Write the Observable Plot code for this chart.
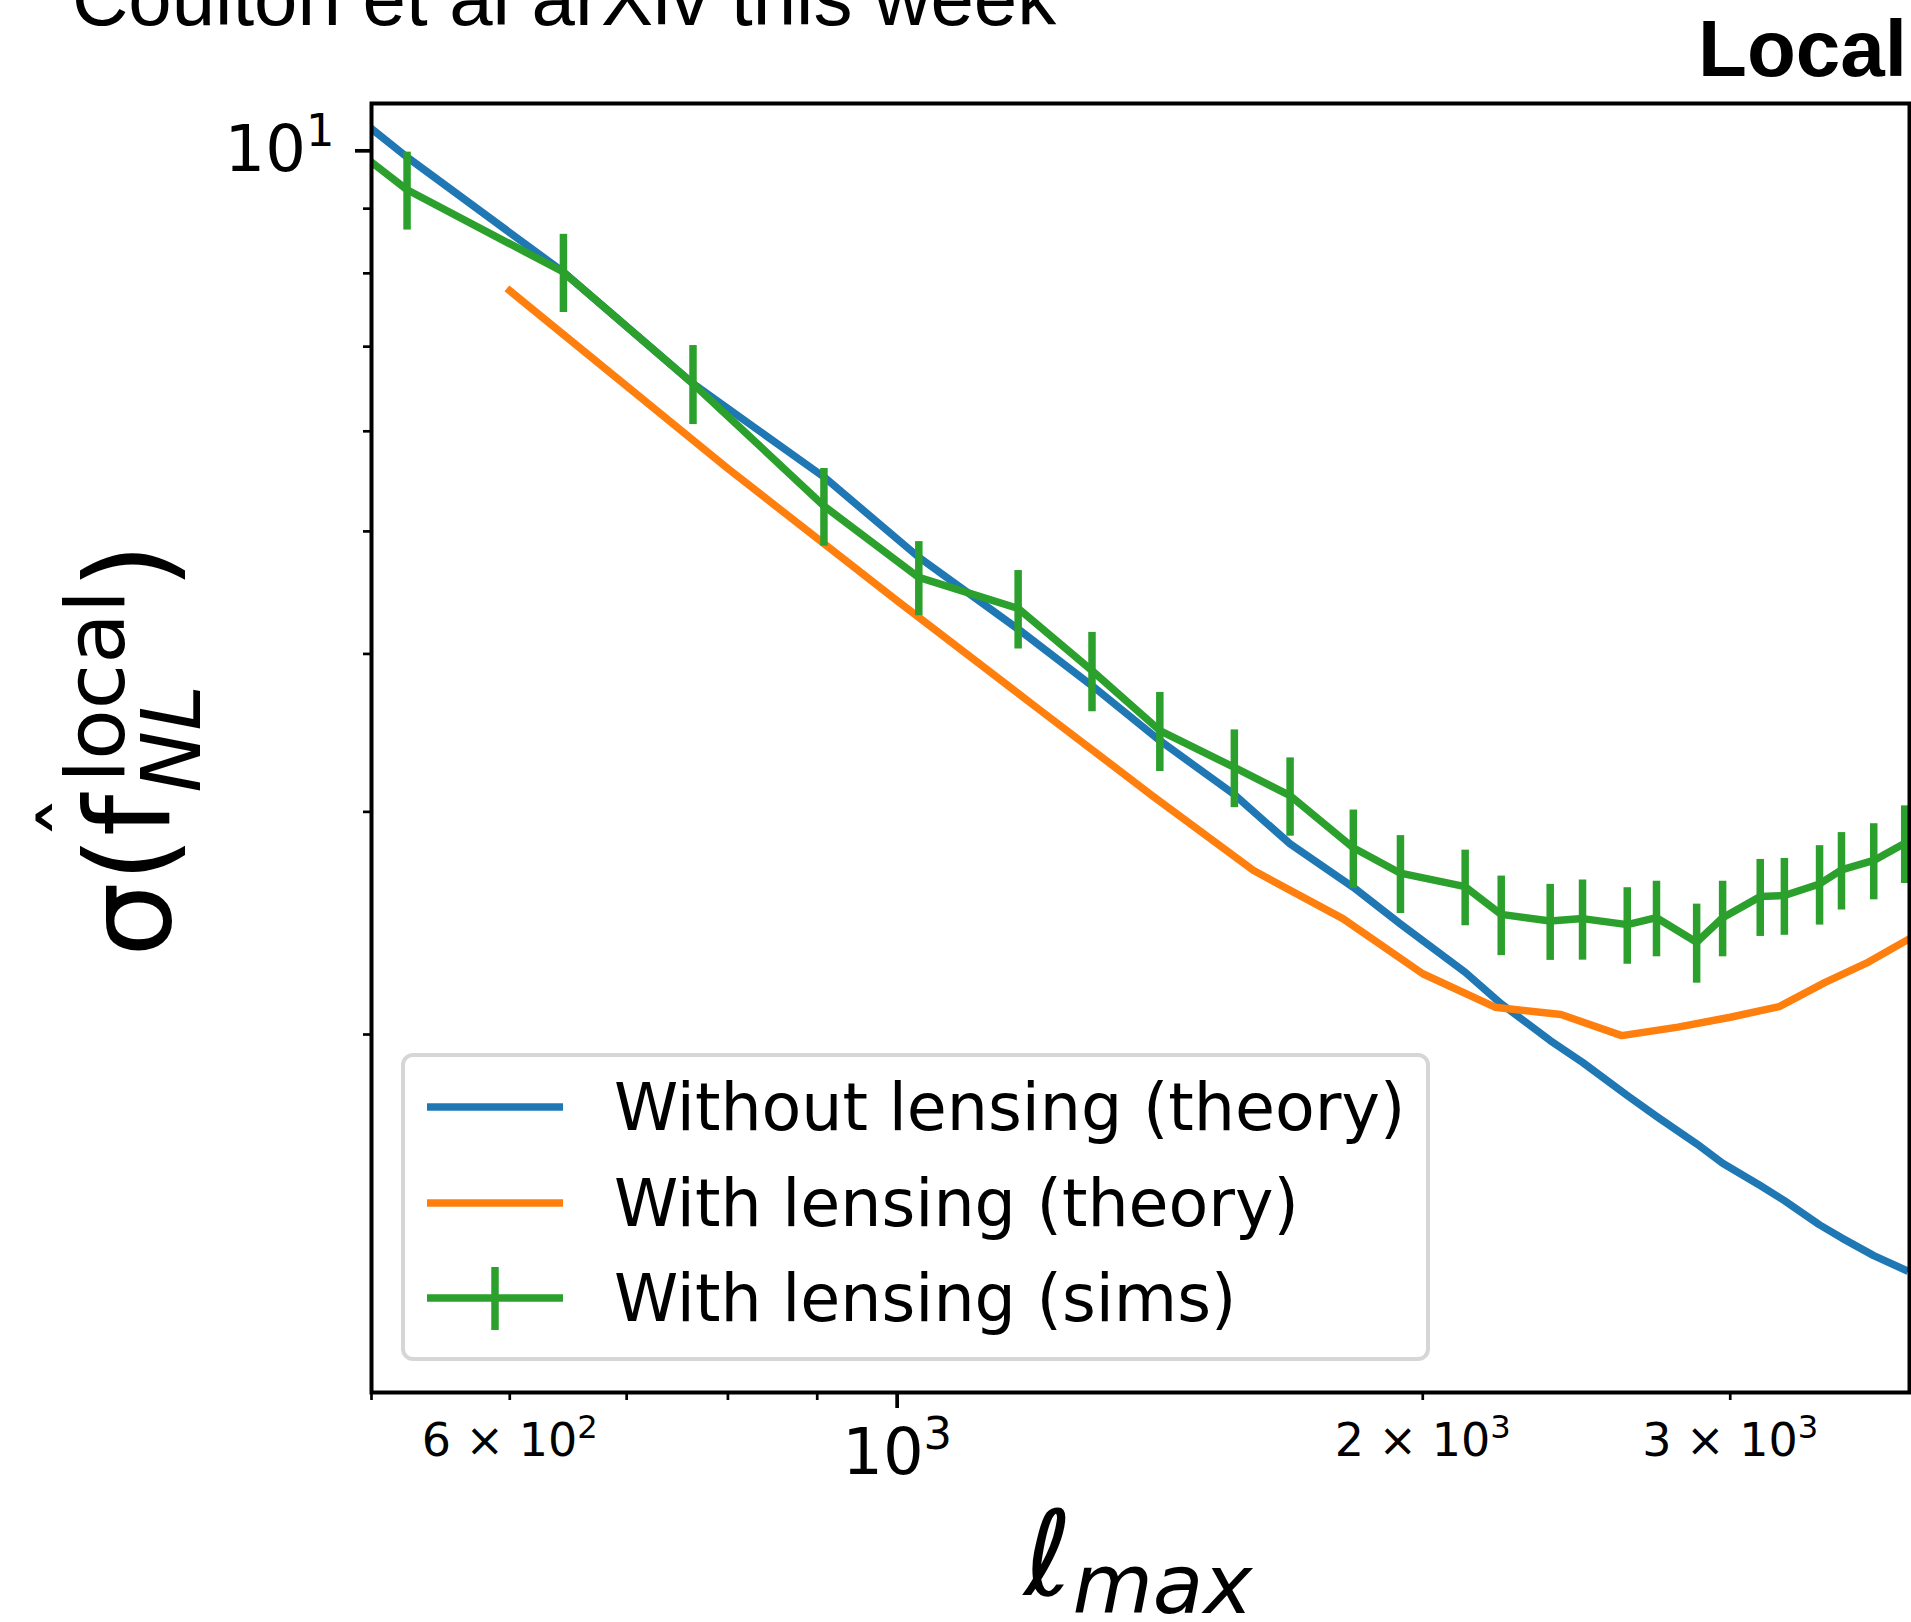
<!DOCTYPE html>
<html>
<head>
<meta charset="utf-8">
<script src="https://cdn.jsdelivr.net/npm/d3@7"></script>
<script src="https://cdn.jsdelivr.net/npm/@observablehq/plot@0.6"></script>
<style>
html, body { margin: 0; padding: 0; background: #fff; }
#chart { width: 1911px; height: 1622px; overflow: hidden; }
</style>
</head>
<body>
<div id="chart"></div>
<script>
// ---- data ----
const lmaxSims = [500, 524, 644, 764, 908, 1029, 1173, 1293, 1414, 1560, 1679, 1825, 1942, 2115, 2218, 2366, 2469, 2619, 2722, 2870, 2970, 3121, 3222, 3375, 3474, 3625, 3776];
const sigmaNoLensing = [10.41, 9.886, 8.019, 6.544, 5.521, 4.770, 4.185, 3.775, 3.416, 3.096, 2.830, 2.615, 2.446, 2.240, 2.115, 1.978, 1.901, 1.790, 1.723, 1.639, 1.582, 1.519, 1.478, 1.414, 1.381, 1.337, 1.303];
const sigmaSims = [9.796, 9.316, 8.019, 6.544, 5.237, 4.598, 4.346, 3.880, 3.479, 3.253, 3.090, 2.810, 2.683, 2.618, 2.489, 2.459, 2.470, 2.443, 2.474, 2.366, 2.474, 2.571, 2.576, 2.631, 2.699, 2.746, 2.833];
const sigmaSimsErr = [null, 0.66, 0.57, 0.47, 0.37, 0.31, 0.31, 0.28, 0.25, 0.23, 0.22, 0.20, 0.19, 0.18, 0.18, 0.17, 0.18, 0.17, 0.17, 0.17, 0.17, 0.18, 0.18, 0.19, 0.19, 0.19, 0.20];
const lmaxTheory = [600, 800, 1000, 1200, 1400, 1600, 1800, 2000, 2200, 2400, 2600, 2800, 3000, 3200, 3400, 3600, 3800];
const sigmaLensingTheory = [7.750, 5.605, 4.407, 3.634, 3.090, 2.696, 2.470, 2.234, 2.102, 2.074, 1.996, 2.027, 2.064, 2.104, 2.199, 2.282, 2.381];

const xMajorTicks = [1000];
const xMinorLabeledTicks = [600, 2000, 3000];
const xMinorTicks = [500, 700, 800, 900];
const yMajorTicks = [10];
const yMinorTicks = [2, 3, 4, 5, 6, 7, 8, 9];
const xTickLabels = {600: "6 × 10^2", 1000: "10^3", 2000: "2 × 10^3", 3000: "3 × 10^3"};
const yTickLabels = {10: "10^1"};

const seriesNames = ["Without lensing (theory)", "With lensing (theory)", "With lensing (sims)"];
const seriesColors = ["#1f77b4", "#ff7f0e", "#2ca02c"];
const titleText = "Coulton et al arXiv this week";
const panelText = "Local";

// ---- tables for the library ----
const noLensing = lmaxSims.map((l, i) => ({l, s: sigmaNoLensing[i]}));
const sims = lmaxSims.map((l, i) => ({l, s: sigmaSims[i], e: sigmaSimsErr[i]}));
const simsErr = sims.filter(d => d.e != null);
const lensingTheory = lmaxTheory.map((l, i) => ({l, s: sigmaLensingTheory[i]}));

const LW = 7.5;
const plot = Plot.plot({
  width: 1911,
  height: 1622,
  marginTop: 103,
  marginLeft: 371,
  marginRight: 2,
  marginBottom: 230,
  style: {fontFamily: "DejaVu Sans", background: "white", color: "black"},
  x: {type: "log", domain: [500, 3800], label: null},
  y: {type: "log", domain: [1.042, 10.9], label: null},
  marks: [
    Plot.line(noLensing, {x: "l", y: "s", stroke: seriesColors[0], strokeWidth: LW, clip: true, strokeLinecap: "square", strokeLinejoin: "round"}),
    Plot.line(lensingTheory, {x: "l", y: "s", stroke: seriesColors[1], strokeWidth: LW, clip: true, strokeLinecap: "square", strokeLinejoin: "round"}),
    Plot.line(sims, {x: "l", y: "s", stroke: seriesColors[2], strokeWidth: LW, clip: true, strokeLinecap: "square", strokeLinejoin: "round"}),
    Plot.ruleX(simsErr, {x: "l", y1: d => d.s - d.e, y2: d => d.s + d.e, stroke: seriesColors[2], strokeWidth: LW, clip: true}),
    Plot.frame({stroke: "black", strokeWidth: 4}),
    Plot.axisX(xMajorTicks, {tickSize: 16, tickPadding: 20, fontSize: 64, strokeWidth: 3.7, tickFormat: d => xTickLabels[d], label: null}),
    Plot.axisX(xMinorLabeledTicks, {tickSize: 8, tickPadding: 23, fontSize: 46, strokeWidth: 2.7, tickFormat: d => xTickLabels[d], label: null}),
    Plot.axisX(xMinorTicks, {tickSize: 8, strokeWidth: 2.7, tickFormat: () => "", label: null}),
    Plot.axisY(yMajorTicks, {tickSize: 16, tickPadding: 21, fontSize: 64, strokeWidth: 3.7, tickFormat: d => yTickLabels[d], label: null}),
    Plot.axisY(yMinorTicks, {tickSize: 8, strokeWidth: 2.7, tickFormat: () => "", label: null})
  ]
});
document.getElementById("chart").appendChild(plot);

const svg = d3.select(plot);

// superscripts in tick labels (10^3 -> 10 with raised 3)
svg.selectAll("text").each(function () {
  const t = this.textContent;
  if (!t || t.indexOf("^") < 0) return;
  const fs = parseFloat(getComputedStyle(this).fontSize);
  const [base, exp] = t.split("^");
  const el = d3.select(this);
  el.text(null);
  el.append("tspan").text(base);
  el.append("tspan").attr("dy", -0.39 * fs).attr("font-size", 0.7 * fs).text(exp);
});

// titles
const sans = "'Liberation Sans', Arial, Helvetica, sans-serif";
const ann = svg.append("g").attr("text-anchor", "start").attr("fill", "black");
ann.append("text").attr("x", 72).attr("y", 25).attr("font-family", sans).attr("font-size", 78).text(titleText);
ann.append("text").attr("x", 1907).attr("y", 76).attr("text-anchor", "end").attr("font-family", sans).attr("font-weight", "bold").attr("font-size", 80).text(panelText);

// y-axis label: sigma( f-hat ^local _NL )
const yl = svg.append("g").attr("transform", "translate(170,957) rotate(-90)").attr("font-family", "DejaVu Sans").attr("fill", "black").attr("text-anchor", "start");
const tmp = yl.append("text").attr("font-size", 118).text("σ(");
const wSigParen = tmp.node().getComputedTextLength();
tmp.remove();
const mainT = yl.append("text").attr("x", 0).attr("y", 0).attr("font-size", 118).text("σ(f");
const wMain = mainT.node().getComputedTextLength();
yl.append("text").attr("x", wSigParen + 0.45 * (wMain - wSigParen)).attr("y", -62).attr("text-anchor", "middle").attr("font-size", 90).text("ˆ");
const supT = yl.append("text").attr("x", wMain + 12).attr("y", -46).attr("font-size", 82.6).text("local");
const wSup = supT.node().getComputedTextLength();
yl.append("text").attr("x", wMain + 2).attr("y", 30).attr("font-size", 82.6).attr("font-style", "italic").text("NL");
yl.append("text").attr("x", wMain + 12 + wSup + 1).attr("y", 0).attr("font-size", 118).text(")");

// x-axis label: ell_max
const xl = svg.append("g").attr("font-family", "DejaVu Sans").attr("fill", "black").attr("text-anchor", "start");
const ellT = xl.append("text").attr("x", 0).attr("y", 1595).attr("font-size", 118).text("ℓ");
const wEll = ellT.node().getComputedTextLength();
const maxT = xl.append("text").attr("x", 0).attr("y", 1613).attr("font-size", 82.6).attr("font-style", "italic").text("max");
const wMax = maxT.node().getComputedTextLength();
const x0 = 1138 - (wEll + wMax) / 2;
ellT.attr("x", x0);
maxT.attr("x", x0 + wEll);

// legend
const lg = svg.append("g").attr("font-family", "DejaVu Sans").attr("text-anchor", "start");
lg.append("rect").attr("x", 403).attr("y", 1055).attr("width", 1025).attr("height", 304).attr("rx", 10)
  .attr("fill", "white").attr("fill-opacity", 0.8).attr("stroke", "#d6d6d6").attr("stroke-width", 4);
const rowsY = [1107, 1203, 1298];
seriesNames.forEach((name, i) => {
  lg.append("line").attr("x1", 427).attr("x2", 563).attr("y1", rowsY[i]).attr("y2", rowsY[i])
    .attr("stroke", seriesColors[i]).attr("stroke-width", LW);
  if (i === 2) {
    lg.append("line").attr("x1", 495).attr("x2", 495).attr("y1", 1267).attr("y2", 1330)
      .attr("stroke", seriesColors[i]).attr("stroke-width", LW);
  }
  lg.append("text").attr("x", 614).attr("y", rowsY[i] + 23).attr("font-size", 65).attr("fill", "black").text(name);
});
</script>
</body>
</html>
